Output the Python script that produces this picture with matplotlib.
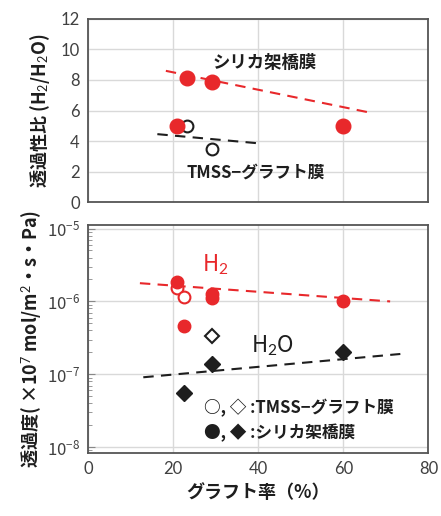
import matplotlib
matplotlib.use("Agg")
import matplotlib.pyplot as plt
from matplotlib.ticker import LogLocator, NullFormatter

plt.rcParams['font.family'] = ['Noto Sans CJK JP', 'DejaVu Sans']
plt.rcParams['mathtext.fontset'] = 'custom'
plt.rcParams['mathtext.rm'] = 'Lato'
plt.rcParams['mathtext.it'] = 'Lato:italic'
plt.rcParams['mathtext.bf'] = 'Lato:bold'

RED = '#E8282B'
DARK = '#1e1e1e'
TICK = '#404040'
GRID = '#d9d9d9'

# permselectivity (top)
sel_silica_x = [21, 23.3, 29.2, 60]
sel_silica_y = [5.0, 8.1, 7.85, 5.0]
sel_tmss_x = [23.3, 29.2]
sel_tmss_y = [5.0, 3.5]
sel_trend_silica_x = [18.3, 65.6]
sel_trend_silica_y = [8.6, 5.9]
sel_trend_tmss_x = [16.3, 40]
sel_trend_tmss_y = [4.45, 3.85]

# permeance (bottom)
h2_silica_x = [21, 22.6, 29.2, 29.2, 60]
h2_silica_y = [1.85e-6, 4.6e-7, 1.25e-6, 1.12e-6, 1.02e-6]
h2_tmss_x = [21, 22.6]
h2_tmss_y = [1.55e-6, 1.16e-6]
h2o_silica_x = [22.6, 29.2, 60]
h2o_silica_y = [5.6e-8, 1.4e-7, 2.0e-7]
h2o_tmss_x = [29.2]
h2o_tmss_y = [3.4e-7]
h2_trend_x = [12.2, 71]
h2_trend_y = [1.78e-6, 1.0e-6]
h2o_trend_x = [13, 73.4]
h2o_trend_y = [9.1e-8, 1.9e-7]

x_ticks = [0, 20, 40, 60, 80]
sel_ticks = [0, 2, 4, 6, 8, 10, 12]

fig = plt.figure(figsize=(4.41, 5.16), dpi=100)
ax1 = fig.add_axes([0.1995, 0.6085, 0.772, 0.3547])
ax2 = fig.add_axes([0.1995, 0.122, 0.772, 0.442])

for ax in (ax1, ax2):
    ax.set_xlim(0, 80)
    ax.set_xticks(x_ticks)
    ax.grid(True, color=GRID, lw=1.0)
    ax.set_axisbelow(True)
    for s in ax.spines.values():
        s.set_color('#555555')
        s.set_linewidth(1.3)
    ax.tick_params(length=0, labelsize=12, colors=TICK, pad=6)

# top panel
ax1.set_ylim(0, 12)
ax1.set_yticks(sel_ticks)
ax1.set_yticklabels([str(v) for v in sel_ticks], family='Lato')
ax1.tick_params(axis='x', labelbottom=False)
dash = (0, (5, 3.5))
ax1.plot(sel_trend_silica_x, sel_trend_silica_y, color=RED, lw=1.5, ls=dash)
ax1.plot(sel_trend_tmss_x, sel_trend_tmss_y, color=DARK, lw=1.5, ls=dash)
ax1.plot(sel_tmss_x, sel_tmss_y, 'o', ms=8.5, mfc='white', mec=DARK, mew=1.5, ls='none')
ax1.plot(sel_silica_x, sel_silica_y, 'o', ms=10.5, color=RED, ls='none')
ax1.text(41.6, 9.1, 'シリカ架橋膜', ha='center', va='center', fontsize=12.5,
         fontweight='bold', color=DARK)
ax1.text(39.3, 1.9, 'TMSS−グラフト膜', ha='center', va='center', fontsize=12,
         fontweight='bold', color=DARK)
ax1.set_ylabel('透過性比 (H$_2$/H$_2$O)', fontsize=13, fontweight='bold',
               color=DARK, labelpad=6)

# bottom panel
ax2.set_yscale('log')
ax2.set_ylim(8.3e-9, 1.12e-5)
ax2.yaxis.set_major_locator(LogLocator(base=10, numticks=10))
ax2.yaxis.set_minor_locator(LogLocator(base=10, subs=range(2, 10), numticks=20))
ax2.yaxis.set_minor_formatter(NullFormatter())
ax2.tick_params(axis='y', which='minor', length=3, direction='in', color='#888888')
ax2.tick_params(axis='y', which='major', length=5, direction='in', color='#888888')
ax2.set_xticklabels([str(v) for v in x_ticks], family='Lato')
ax2.plot(h2_trend_x, h2_trend_y, color=RED, lw=1.5, ls=dash)
ax2.plot(h2o_trend_x, h2o_trend_y, color=DARK, lw=1.5, ls=dash)
ax2.plot(h2_tmss_x, h2_tmss_y, 'o', ms=8.5, mfc='white', mec=RED, mew=1.5, ls='none')
ax2.plot(h2_silica_x, h2_silica_y, 'o', ms=9, color=RED, ls='none')
ax2.plot(h2o_tmss_x, h2o_tmss_y, 'D', ms=7, mfc='white', mec=DARK, mew=1.5, ls='none')
ax2.plot(h2o_silica_x, h2o_silica_y, 'D', ms=8, color=DARK, ls='none')
ax2.text(29.9, 3.2e-6, 'H$_2$', ha='center', va='center', fontsize=16, color=RED)
ax2.text(43.3, 2.45e-7, 'H$_2$O', ha='center', va='center', fontsize=16, color=DARK)
ax2.text(27.3, 3.4e-8, '○, ◇ :TMSS−グラフト膜', ha='left', va='center', fontsize=12,
         fontweight='bold', color=DARK)
ax2.text(27.3, 1.57e-8, '●, ◆ :シリカ架橋膜', ha='left', va='center', fontsize=12,
         fontweight='bold', color=DARK)
ax2.set_ylabel('透過度( ×10$^7$ mol/m$^2$・s・Pa)', fontsize=13, fontweight='bold',
               color=DARK, labelpad=2)
ax2.set_xlabel('グラフト率（%）', fontsize=13, fontweight='bold', color=DARK, labelpad=4)

fig.savefig('out.png', dpi=100)
